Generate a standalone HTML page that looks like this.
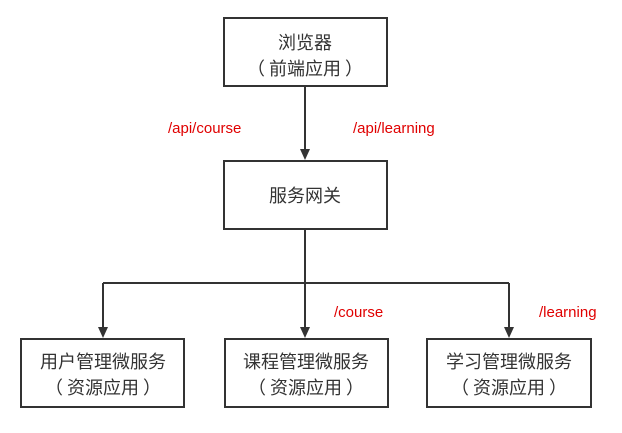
<!DOCTYPE html>
<html><head><meta charset="utf-8"><style>
body{margin:0;background:#fff;width:622px;height:428px;overflow:hidden}
svg text{font-family:"Liberation Sans","Noto Sans CJK SC",sans-serif}
svg text.c{font-family:"Noto Sans CJK SC",sans-serif}
</style></head><body>
<svg width="622" height="428" xmlns="http://www.w3.org/2000/svg">
<g fill="none" stroke="#333" stroke-width="2">
<rect x="224" y="18" width="163" height="68"/>
<rect x="224" y="161" width="163" height="68"/>
<rect x="21" y="339" width="163" height="68"/>
<rect x="225" y="339" width="163" height="68"/>
<rect x="427" y="339" width="164" height="68"/>
<path d="M305 86V150M305 229V328M103 283H509M103 283V328M509 283V328"/>
</g>
<g fill="#333">
<path d="M300 149L305 160L310 149Z"/>
<path d="M300 327L305 338L310 327Z"/>
<path d="M98 327L103 338L108 327Z"/>
<path d="M504 327L509 338L514 327Z"/>
</g>
<g font-size="18" fill="#333" text-anchor="middle">
<text class="c" x="305" y="49">浏览器</text>
<text class="c" x="305" y="75">（ 前端应用 ）</text>
<text class="c" x="305" y="202">服务网关</text>
<text class="c" x="103" y="368">用户管理微服务</text>
<text class="c" x="103" y="394">（ 资源应用 ）</text>
<text class="c" x="306" y="368">课程管理微服务</text>
<text class="c" x="306" y="394">（ 资源应用 ）</text>
<text class="c" x="509" y="368">学习管理微服务</text>
<text class="c" x="509" y="394">（ 资源应用 ）</text>
</g>
<g font-size="15" fill="#e00000">
<text x="168" y="133">/api/course</text>
<text x="353" y="133">/api/learning</text>
<text x="334" y="317">/course</text>
<text x="539" y="317">/learning</text>
</g>
</svg>
</body></html>
